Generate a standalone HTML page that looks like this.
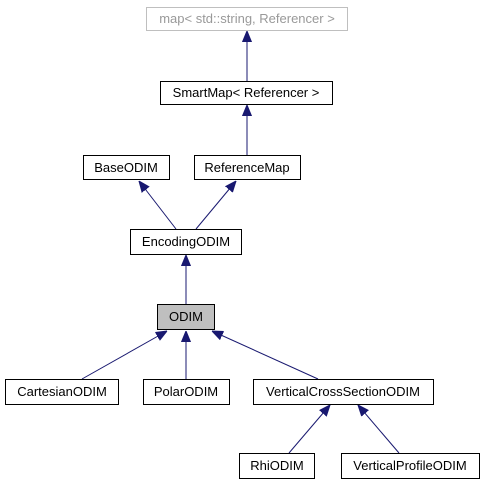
<!DOCTYPE html><html><head><style>body{margin:0;background:#fff}</style></head><body>
<svg width="485" height="485" xmlns="http://www.w3.org/2000/svg" font-family="Liberation Sans, sans-serif" font-size="13">
<defs><marker id="a" markerWidth="11" markerHeight="10" refX="11" refY="5" orient="auto" markerUnits="userSpaceOnUse"><path d="M0,0.5 L11,5 L0,9.5 Z" fill="#191970" stroke="#191970"/></marker></defs>
<g stroke="#191970" stroke-width="1" fill="none" marker-end="url(#a)">
<line x1="247" y1="81" x2="247" y2="31"/>
<line x1="247" y1="155" x2="247" y2="105"/>
<line x1="176" y1="229" x2="139" y2="181"/>
<line x1="196" y1="229" x2="236" y2="181"/>
<line x1="186" y1="304" x2="186" y2="255"/>
<line x1="82" y1="379" x2="167" y2="331"/>
<line x1="186" y1="379" x2="186" y2="331"/>
<line x1="318" y1="379" x2="212" y2="331"/>
<line x1="289" y1="453" x2="330" y2="405"/>
<line x1="399" y1="453" x2="358" y2="405"/>
</g>
<g stroke="#000" stroke-width="1" fill="#fff">
<rect x="146.5" y="7.5" width="201" height="23" stroke="#bfbfbf"/>
<rect x="160.5" y="81.5" width="172" height="23"/>
<rect x="83.5" y="155.5" width="86" height="24"/>
<rect x="194.5" y="155.5" width="106" height="24"/>
<rect x="130.5" y="229.5" width="111" height="25"/>
<rect x="157.5" y="304.5" width="57" height="25" fill="#bfbfbf"/>
<rect x="5.5" y="379.5" width="113" height="25"/>
<rect x="143.5" y="379.5" width="86" height="25"/>
<rect x="253.5" y="379.5" width="180" height="25"/>
<rect x="239.5" y="453.5" width="75" height="25"/>
<rect x="341.5" y="453.5" width="138" height="25"/>
</g>
<g text-anchor="middle" fill="#000">
<text x="247" y="23" fill="#999">map&lt; std::string, Referencer &gt;</text>
<text x="246" y="97">SmartMap&lt; Referencer &gt;</text>
<text x="126" y="172">BaseODIM</text>
<text x="247" y="172">ReferenceMap</text>
<text x="186" y="246">EncodingODIM</text>
<text x="186" y="321">ODIM</text>
<text x="62" y="396">CartesianODIM</text>
<text x="186" y="396">PolarODIM</text>
<text x="343" y="396">VerticalCrossSectionODIM</text>
<text x="277" y="470">RhiODIM</text>
<text x="410" y="470">VerticalProfileODIM</text>
</g>
</svg></body></html>
